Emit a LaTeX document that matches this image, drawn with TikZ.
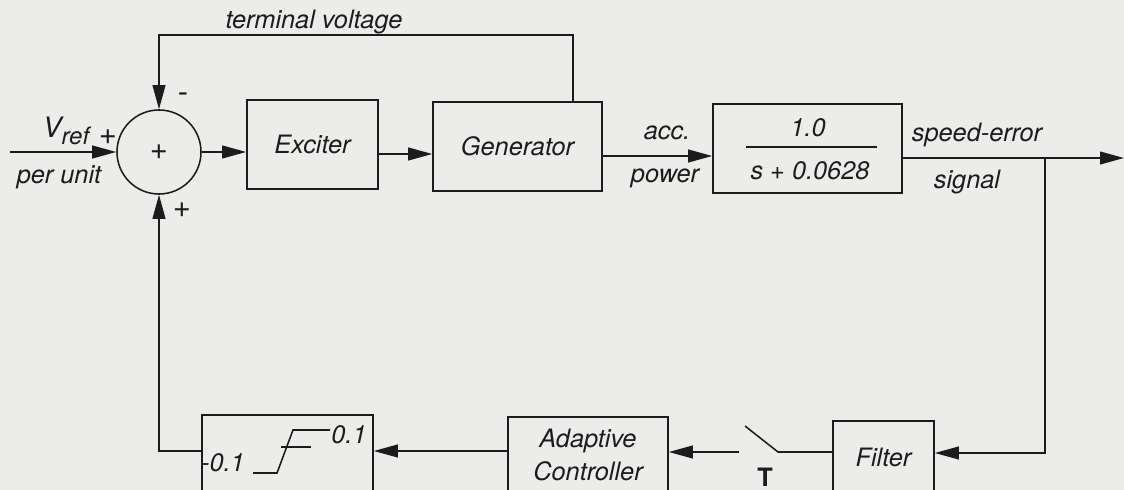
\documentclass[tikz,border=0pt]{standalone}
\usepackage{fontspec}
\setmainfont{TeX Gyre Heros}
\usetikzlibrary{arrows.meta, positioning, calc}
\definecolor{paper}{RGB}{236,236,234}
\definecolor{ink}{RGB}{28,28,28}

\begin{document}
\begin{tikzpicture}[
    x=0.025cm, y=-0.025cm,
    txt/.style={font=\fontsize{18}{23}\selectfont\itshape, text=ink, inner sep=0pt},
    sgn/.style={font=\fontsize{22}{24}\selectfont, text=ink, inner sep=0pt},
    blk/.style={draw=ink, line width=1.1pt, txt, align=center},
    sumnode/.style={draw=ink, line width=1.1pt, circle, minimum size=2.1cm, inner sep=0pt, sgn},
    wire/.style={draw=ink, line width=1.1pt},
    sig/.style={wire, -{Triangle[length=6mm, width=3.2mm]}},
]
    \useasboundingbox (0,0) rectangle (1124,490);
    \fill[paper] (0,0) rectangle (1124,490);
    \clip (0,0) rectangle (1124,490);

    % Forward path
    \node[sumnode] (sum) at (159,152) {+};
    \node[blk, minimum width=3.275cm, minimum height=2.225cm] (exc) at (312.5,144.5) {Exciter};
    \node[blk, minimum width=4.225cm, minimum height=2.225cm] (gen) at (517.5,146.5) {Generator};
    \node[blk, minimum width=4.725cm, minimum height=2.225cm] (tf) at (807.5,148.5) {};
    \node[txt] (tfnum) at (808,128) {1.0};
    \node[txt] (tfden) at (810,171) {s + 0.0628};
    \draw[wire] (746,147) -- (877,147);

    % Feedback path
    \node[blk, minimum width=2.525cm, minimum height=1.8cm] (filt) at (883.5,457) {Filter};
    \node[blk, minimum width=4cm, minimum height=1.9cm] (adapt) at (588,455) {Adaptive\\Controller};
    \node[blk, minimum width=4.275cm, minimum height=2cm] (limit) at (287.5,455) {};
    \draw[wire] (253,473) -- (277,473) -- (293,430) -- (330,430);
    \draw[wire] (281,447) -- (311,447);
    \node[txt] (limhi) at (349,435) {0.1};
    \node[txt] (limlo) at (223,463) {-0.1};

    % Points on the wires
    \coordinate (vin) at (10,152);
    \coordinate (vout) at (1124,158);
    \coordinate (branch) at (1045,158);
    \coordinate (tvtop) at (573,35);
    \coordinate (lvexc) at (0,154);
    \coordinate (lvgen) at (0,156);
    \coordinate (lvfilt) at (0,453);
    \coordinate (lvlim) at (0,451);
    \coordinate (swa) at (778,452);
    \coordinate (swb) at (745,426);
    \coordinate (swc) at (739,452);

    % Connectors
    \draw[sig] (vin) -- (sum.west);
    \draw[sig] (sum.east) -- (sum.east -| exc.west);
    \draw[sig] (exc.east |- lvexc) -- (gen.west |- lvexc);
    \draw[sig] (gen.east |- lvgen) -- (tf.west |- lvgen);
    \draw[sig] (tf.east |- vout) -- (vout);
    \draw[sig] (gen.north -| tvtop) -- (tvtop) -| (sum.north);
    \draw[sig] (branch) |- (filt.east |- lvfilt);
    \draw[wire] (filt.west |- swa) -- (swa) -- (swb);
    \draw[sig] (swc) -- (adapt.east |- swc);
    \draw[sig] (adapt.west |- lvlim) -- (limit.east |- lvlim);
    \draw[sig] (limit.west |- lvlim) -| (sum.south);

    % Labels
    \node[txt] (tvlbl) at (314,22) {terminal voltage};
    \node[txt] (vref) at (66,131) {\fontsize{20}{23}\selectfont V\raisebox{-0.5ex}{\fontsize{17}{18}\selectfont ref}};
    \node[sgn] (plusin) at (108,137) {+};
    \node[txt] (perunit) at (59,177) {per unit};
    \node[sgn] (minustop) at (183,98) {-};
    \node[sgn] (plusbot) at (182,210) {+};
    \node[txt] (acc) at (667,133) {acc.};
    \node[txt] (accpow) at (665,178) {power};
    \node[txt] (spderr) at (977,135) {speed-error};
    \node[txt] (spdsig) at (967,182) {signal};
    \node[txt, font=\fontsize{18}{23}\selectfont\bfseries] (swt) at (765,477) {T};
\end{tikzpicture}
\end{document}
